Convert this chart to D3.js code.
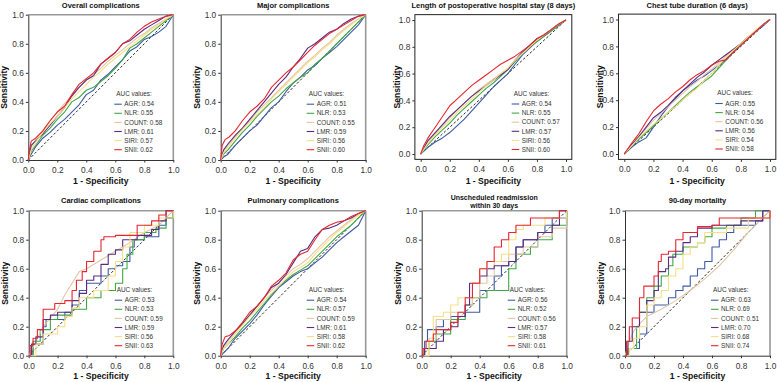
<!DOCTYPE html>
<html>
<head>
<meta charset="utf-8">
<script src="https://cdn.jsdelivr.net/npm/d3@7"></script>
<style>
  body { margin: 0; background: #fff; }
  text { font-family: "Liberation Sans", Arial, sans-serif; }
</style>
</head>
<body>
<div id="container"></div>
<script>
/**
 * DATA
 * */
const markers = ["AGR", "NLR", "COUNT", "LMR", "SIRI", "SNII"];

const titles = [
  ["Overall complications"],
  ["Major complications"],
  ["Length of postoperative hospital stay (8 days)"],
  ["Chest tube duration (6 days)"],
  ["Cardiac complications"],
  ["Pulmonary complications"],
  ["Unscheduled readmission", "within 30 days"],
  ["90-day mortality"]
];

const aucValues = [
  [0.54, 0.55, 0.58, 0.61, 0.57, 0.62],
  [0.51, 0.53, 0.55, 0.59, 0.56, 0.60],
  [0.54, 0.55, 0.57, 0.57, 0.56, 0.60],
  [0.55, 0.54, 0.56, 0.56, 0.54, 0.58],
  [0.53, 0.53, 0.59, 0.59, 0.56, 0.63],
  [0.54, 0.57, 0.59, 0.61, 0.58, 0.62],
  [0.56, 0.52, 0.56, 0.57, 0.58, 0.61],
  [0.63, 0.69, 0.51, 0.70, 0.68, 0.74]
];

const tickValues = [0, 0.2, 0.4, 0.6, 0.8, 1.0];

// ROC points [1 - specificity, sensitivity], marker order as above
const rocOverall = [
  [[0,0],[0.02,0.04],[0.05,0.09],[0.1,0.15],[0.15,0.19],[0.2,0.24],[0.25,0.28],[0.3,0.33],[0.35,0.38],[0.4,0.45],[0.45,0.48],[0.5,0.55],[0.55,0.59],[0.6,0.64],[0.65,0.69],[0.7,0.75],[0.75,0.78],[0.8,0.83],[0.85,0.85],[0.9,0.88],[0.95,0.92],[1,1]],
  [[0,0],[0.02,0.06],[0.05,0.1],[0.1,0.17],[0.15,0.22],[0.2,0.28],[0.25,0.33],[0.3,0.4],[0.35,0.43],[0.4,0.48],[0.45,0.5],[0.5,0.54],[0.55,0.58],[0.6,0.63],[0.65,0.69],[0.7,0.77],[0.75,0.8],[0.8,0.84],[0.85,0.88],[0.9,0.92],[0.95,0.96],[1,1]],
  [[0,0],[0.02,0.09],[0.05,0.14],[0.1,0.2],[0.15,0.27],[0.2,0.33],[0.25,0.39],[0.3,0.44],[0.35,0.5],[0.4,0.55],[0.45,0.59],[0.5,0.63],[0.55,0.68],[0.6,0.72],[0.65,0.76],[0.7,0.8],[0.75,0.84],[0.8,0.87],[0.85,0.91],[0.9,0.94],[0.95,0.97],[1,1]],
  [[0,0],[0.02,0.1],[0.05,0.13],[0.1,0.18],[0.15,0.24],[0.2,0.3],[0.25,0.36],[0.3,0.44],[0.35,0.5],[0.4,0.55],[0.45,0.58],[0.5,0.66],[0.55,0.7],[0.6,0.74],[0.65,0.8],[0.7,0.82],[0.75,0.86],[0.8,0.9],[0.85,0.93],[0.9,0.96],[0.95,0.99],[1,1]],
  [[0,0],[0.02,0.07],[0.05,0.12],[0.1,0.19],[0.15,0.25],[0.2,0.3],[0.25,0.36],[0.3,0.42],[0.35,0.47],[0.4,0.52],[0.45,0.57],[0.5,0.61],[0.55,0.66],[0.6,0.7],[0.65,0.74],[0.7,0.78],[0.75,0.82],[0.8,0.86],[0.85,0.9],[0.9,0.93],[0.95,0.97],[1,1]],
  [[0,0],[0.01,0.08],[0.02,0.13],[0.05,0.15],[0.1,0.2],[0.15,0.27],[0.2,0.33],[0.25,0.37],[0.3,0.45],[0.35,0.52],[0.4,0.56],[0.45,0.6],[0.5,0.66],[0.55,0.7],[0.6,0.74],[0.65,0.8],[0.7,0.83],[0.75,0.88],[0.8,0.92],[0.85,0.95],[0.9,0.97],[0.95,0.99],[1,1]]
];

const rocMajor = [
  [[0,0],[0.02,0.02],[0.05,0.04],[0.1,0.1],[0.15,0.15],[0.2,0.2],[0.25,0.24],[0.3,0.3],[0.35,0.36],[0.4,0.4],[0.45,0.47],[0.5,0.53],[0.55,0.57],[0.6,0.62],[0.65,0.65],[0.7,0.7],[0.75,0.74],[0.8,0.78],[0.85,0.83],[0.9,0.88],[0.95,0.93],[1,1]],
  [[0,0],[0.02,0.04],[0.05,0.07],[0.1,0.13],[0.15,0.19],[0.2,0.24],[0.25,0.3],[0.3,0.35],[0.35,0.4],[0.4,0.44],[0.45,0.49],[0.5,0.53],[0.55,0.57],[0.6,0.6],[0.65,0.66],[0.7,0.7],[0.75,0.75],[0.8,0.8],[0.85,0.85],[0.9,0.9],[0.95,0.95],[1,1]],
  [[0,0],[0.02,0.06],[0.05,0.1],[0.1,0.16],[0.15,0.22],[0.2,0.27],[0.25,0.33],[0.3,0.38],[0.35,0.43],[0.4,0.48],[0.45,0.53],[0.5,0.58],[0.55,0.63],[0.6,0.68],[0.65,0.72],[0.7,0.77],[0.75,0.81],[0.8,0.86],[0.85,0.9],[0.9,0.94],[0.95,0.97],[1,1]],
  [[0,0],[0.02,0.07],[0.05,0.11],[0.1,0.17],[0.15,0.22],[0.2,0.28],[0.25,0.34],[0.3,0.4],[0.35,0.46],[0.4,0.52],[0.45,0.57],[0.5,0.64],[0.55,0.7],[0.6,0.77],[0.65,0.8],[0.7,0.84],[0.75,0.88],[0.8,0.9],[0.85,0.94],[0.9,0.97],[0.95,0.99],[1,1]],
  [[0,0],[0.02,0.05],[0.05,0.09],[0.1,0.15],[0.15,0.21],[0.2,0.26],[0.25,0.31],[0.3,0.36],[0.35,0.42],[0.4,0.47],[0.45,0.52],[0.5,0.57],[0.55,0.62],[0.6,0.67],[0.65,0.71],[0.7,0.76],[0.75,0.8],[0.8,0.85],[0.85,0.89],[0.9,0.93],[0.95,0.97],[1,1]],
  [[0,0],[0.01,0.1],[0.03,0.14],[0.06,0.16],[0.1,0.2],[0.15,0.27],[0.2,0.33],[0.25,0.37],[0.3,0.42],[0.35,0.5],[0.4,0.55],[0.45,0.6],[0.5,0.64],[0.55,0.69],[0.6,0.74],[0.65,0.79],[0.7,0.83],[0.75,0.87],[0.8,0.9],[0.85,0.93],[0.9,0.96],[0.95,0.99],[1,1]]
];

const rocStay = [
  [[0,0],[0.05,0.05],[0.1,0.09],[0.15,0.12],[0.2,0.16],[0.25,0.21],[0.3,0.26],[0.35,0.32],[0.4,0.38],[0.45,0.44],[0.5,0.5],[0.55,0.55],[0.6,0.6],[0.65,0.67],[0.7,0.74],[0.75,0.79],[0.8,0.84],[0.85,0.88],[0.9,0.92],[0.95,0.96],[1,1]],
  [[0,0],[0.05,0.07],[0.1,0.13],[0.15,0.18],[0.2,0.23],[0.25,0.29],[0.3,0.34],[0.35,0.39],[0.4,0.44],[0.45,0.49],[0.5,0.53],[0.55,0.58],[0.6,0.63],[0.65,0.69],[0.7,0.75],[0.75,0.8],[0.8,0.84],[0.85,0.88],[0.9,0.92],[0.95,0.96],[1,1]],
  [[0,0],[0.05,0.09],[0.1,0.15],[0.15,0.21],[0.2,0.27],[0.25,0.33],[0.3,0.38],[0.35,0.43],[0.4,0.48],[0.45,0.52],[0.5,0.56],[0.55,0.6],[0.6,0.64],[0.65,0.7],[0.7,0.76],[0.75,0.81],[0.8,0.85],[0.85,0.89],[0.9,0.93],[0.95,0.97],[1,1]],
  [[0,0],[0.05,0.1],[0.1,0.16],[0.15,0.22],[0.2,0.28],[0.25,0.33],[0.3,0.38],[0.35,0.43],[0.4,0.47],[0.45,0.51],[0.5,0.55],[0.55,0.59],[0.6,0.63],[0.65,0.7],[0.7,0.76],[0.75,0.81],[0.8,0.86],[0.85,0.89],[0.9,0.93],[0.95,0.97],[1,1]],
  [[0,0],[0.05,0.08],[0.1,0.14],[0.15,0.2],[0.2,0.25],[0.25,0.31],[0.3,0.36],[0.35,0.41],[0.4,0.46],[0.45,0.51],[0.5,0.55],[0.55,0.6],[0.6,0.64],[0.65,0.7],[0.7,0.75],[0.75,0.8],[0.8,0.85],[0.85,0.89],[0.9,0.93],[0.95,0.97],[1,1]],
  [[0,0],[0.02,0.06],[0.05,0.12],[0.1,0.2],[0.15,0.28],[0.2,0.36],[0.25,0.41],[0.3,0.46],[0.35,0.51],[0.4,0.55],[0.45,0.59],[0.5,0.63],[0.55,0.67],[0.6,0.7],[0.65,0.73],[0.7,0.77],[0.75,0.81],[0.8,0.86],[0.85,0.89],[0.9,0.93],[0.95,0.97],[1,1]]
];

const rocChest = [
  [[0,0],[0.05,0.05],[0.1,0.09],[0.15,0.12],[0.2,0.2],[0.25,0.28],[0.3,0.35],[0.35,0.41],[0.4,0.47],[0.45,0.51],[0.5,0.55],[0.55,0.58],[0.6,0.62],[0.65,0.66],[0.7,0.71],[0.75,0.76],[0.8,0.81],[0.85,0.86],[0.9,0.91],[0.95,0.95],[1,1]],
  [[0,0],[0.05,0.06],[0.1,0.11],[0.15,0.16],[0.2,0.21],[0.25,0.26],[0.3,0.31],[0.35,0.36],[0.4,0.41],[0.45,0.46],[0.5,0.5],[0.55,0.54],[0.6,0.58],[0.65,0.64],[0.7,0.7],[0.75,0.76],[0.8,0.81],[0.85,0.86],[0.9,0.91],[0.95,0.96],[1,1]],
  [[0,0],[0.05,0.07],[0.1,0.13],[0.15,0.19],[0.2,0.25],[0.25,0.3],[0.3,0.35],[0.35,0.4],[0.4,0.45],[0.45,0.5],[0.5,0.54],[0.55,0.59],[0.6,0.63],[0.65,0.68],[0.7,0.73],[0.75,0.78],[0.8,0.82],[0.85,0.87],[0.9,0.91],[0.95,0.96],[1,1]],
  [[0,0],[0.05,0.07],[0.1,0.13],[0.15,0.2],[0.2,0.27],[0.25,0.31],[0.3,0.36],[0.35,0.42],[0.4,0.47],[0.45,0.52],[0.5,0.57],[0.55,0.61],[0.6,0.66],[0.65,0.7],[0.7,0.74],[0.75,0.78],[0.8,0.82],[0.85,0.87],[0.9,0.91],[0.95,0.96],[1,1]],
  [[0,0],[0.05,0.06],[0.1,0.12],[0.15,0.17],[0.2,0.22],[0.25,0.26],[0.3,0.31],[0.35,0.35],[0.4,0.4],[0.45,0.45],[0.5,0.49],[0.55,0.55],[0.6,0.6],[0.65,0.66],[0.7,0.72],[0.75,0.77],[0.8,0.82],[0.85,0.87],[0.9,0.92],[0.95,0.96],[1,1]],
  [[0,0],[0.05,0.08],[0.1,0.15],[0.15,0.24],[0.2,0.32],[0.25,0.37],[0.3,0.41],[0.35,0.46],[0.4,0.5],[0.45,0.55],[0.5,0.59],[0.55,0.62],[0.6,0.66],[0.65,0.69],[0.7,0.7],[0.75,0.76],[0.8,0.81],[0.85,0.86],[0.9,0.91],[0.95,0.96],[1,1]]
];

const rocCardiac = [
  [[0,0],[0.03,0.08],[0.1,0.2],[0.12,0.25],[0.2,0.25],[0.25,0.3],[0.3,0.35],[0.35,0.45],[0.4,0.5],[0.5,0.55],[0.55,0.6],[0.6,0.62],[0.65,0.65],[0.7,0.75],[0.73,0.8],[0.8,0.82],[0.9,0.9],[0.95,0.95],[1,1]],
  [[0,0],[0.03,0.1],[0.08,0.18],[0.15,0.25],[0.2,0.28],[0.3,0.32],[0.4,0.4],[0.5,0.45],[0.6,0.5],[0.65,0.6],[0.68,0.7],[0.72,0.8],[0.8,0.85],[0.88,0.88],[0.95,0.95],[1,1]],
  [[0,0],[0.05,0.1],[0.1,0.2],[0.15,0.26],[0.2,0.32],[0.25,0.42],[0.3,0.5],[0.35,0.58],[0.4,0.6],[0.5,0.66],[0.6,0.72],[0.7,0.78],[0.8,0.85],[0.9,0.9],[1,1]],
  [[0,0],[0.02,0.08],[0.05,0.13],[0.1,0.25],[0.15,0.28],[0.2,0.3],[0.3,0.38],[0.35,0.43],[0.4,0.52],[0.45,0.55],[0.5,0.63],[0.55,0.7],[0.6,0.73],[0.65,0.8],[0.75,0.83],[0.85,0.87],[0.9,0.93],[0.95,1],[1,1]],
  [[0,0],[0.05,0.08],[0.1,0.15],[0.2,0.2],[0.25,0.27],[0.3,0.33],[0.35,0.4],[0.45,0.45],[0.55,0.55],[0.6,0.65],[0.65,0.75],[0.7,0.85],[0.8,0.9],[0.9,0.95],[1,1]],
  [[0,0],[0.01,0.07],[0.03,0.12],[0.06,0.18],[0.1,0.32],[0.15,0.32],[0.18,0.36],[0.25,0.38],[0.3,0.45],[0.33,0.52],[0.37,0.58],[0.4,0.65],[0.45,0.72],[0.5,0.8],[0.52,0.82],[0.6,0.83],[0.75,0.9],[0.85,0.93],[0.9,0.97],[0.95,1],[1,1]]
];

const rocPulmonary = [
  [[0,0],[0.02,0.02],[0.05,0.05],[0.1,0.12],[0.15,0.17],[0.2,0.22],[0.25,0.28],[0.3,0.35],[0.35,0.41],[0.4,0.47],[0.45,0.51],[0.5,0.55],[0.55,0.58],[0.6,0.6],[0.65,0.64],[0.7,0.68],[0.75,0.73],[0.8,0.78],[0.85,0.82],[0.9,0.86],[0.95,0.9],[1,1]],
  [[0,0],[0.02,0.05],[0.05,0.08],[0.1,0.13],[0.15,0.19],[0.2,0.24],[0.25,0.3],[0.3,0.36],[0.35,0.42],[0.4,0.48],[0.45,0.52],[0.5,0.56],[0.55,0.59],[0.6,0.62],[0.65,0.67],[0.7,0.72],[0.75,0.77],[0.8,0.82],[0.85,0.86],[0.9,0.9],[0.95,0.95],[1,1]],
  [[0,0],[0.02,0.06],[0.05,0.1],[0.1,0.16],[0.15,0.22],[0.2,0.28],[0.25,0.34],[0.3,0.4],[0.35,0.45],[0.4,0.5],[0.45,0.55],[0.5,0.6],[0.55,0.63],[0.6,0.67],[0.65,0.72],[0.7,0.77],[0.75,0.82],[0.8,0.86],[0.85,0.9],[0.9,0.94],[0.95,0.97],[1,1]],
  [[0,0],[0.02,0.07],[0.05,0.11],[0.1,0.17],[0.15,0.22],[0.2,0.28],[0.25,0.34],[0.3,0.4],[0.35,0.47],[0.4,0.5],[0.45,0.56],[0.5,0.64],[0.55,0.72],[0.6,0.74],[0.65,0.82],[0.7,0.87],[0.75,0.88],[0.8,0.9],[0.85,0.93],[0.9,0.95],[0.95,0.98],[1,1]],
  [[0,0],[0.02,0.05],[0.05,0.08],[0.1,0.15],[0.15,0.21],[0.2,0.27],[0.25,0.32],[0.3,0.38],[0.35,0.43],[0.4,0.48],[0.45,0.53],[0.5,0.58],[0.55,0.61],[0.6,0.64],[0.65,0.7],[0.7,0.75],[0.75,0.8],[0.8,0.85],[0.85,0.89],[0.9,0.93],[0.95,0.97],[1,1]],
  [[0,0],[0.01,0.08],[0.03,0.13],[0.06,0.14],[0.1,0.17],[0.15,0.23],[0.2,0.3],[0.25,0.34],[0.3,0.4],[0.35,0.48],[0.4,0.52],[0.45,0.57],[0.5,0.66],[0.55,0.7],[0.6,0.72],[0.65,0.8],[0.7,0.87],[0.75,0.9],[0.8,0.92],[0.85,0.93],[0.9,0.96],[0.95,0.98],[1,1]]
];

const rocReadmission = [
  [[0,0],[0.02,0.1],[0.04,0.18],[0.1,0.2],[0.15,0.25],[0.2,0.27],[0.3,0.3],[0.4,0.45],[0.5,0.55],[0.55,0.62],[0.6,0.65],[0.65,0.75],[0.7,0.8],[0.8,0.85],[0.85,0.9],[0.9,0.95],[1,1]],
  [[0,0],[0.02,0.05],[0.05,0.1],[0.1,0.15],[0.2,0.25],[0.3,0.35],[0.35,0.4],[0.45,0.45],[0.6,0.6],[0.65,0.7],[0.75,0.75],[0.8,0.8],[0.9,0.9],[1,1]],
  [[0,0],[0.05,0.12],[0.1,0.25],[0.2,0.3],[0.3,0.35],[0.35,0.4],[0.4,0.5],[0.45,0.55],[0.5,0.65],[0.6,0.7],[0.7,0.75],[0.8,0.82],[0.9,0.88],[1,1]],
  [[0,0],[0.02,0.05],[0.1,0.1],[0.15,0.18],[0.2,0.2],[0.25,0.27],[0.3,0.35],[0.33,0.5],[0.4,0.55],[0.45,0.6],[0.5,0.62],[0.6,0.65],[0.65,0.75],[0.7,0.8],[0.8,0.85],[0.9,0.9],[0.95,1],[1,1]],
  [[0,0],[0.05,0.1],[0.08,0.27],[0.15,0.3],[0.2,0.35],[0.25,0.4],[0.35,0.5],[0.4,0.6],[0.45,0.65],[0.55,0.7],[0.6,0.8],[0.65,0.87],[0.7,0.9],[0.85,0.95],[1,1]],
  [[0,0],[0.01,0.05],[0.03,0.1],[0.08,0.15],[0.1,0.18],[0.2,0.23],[0.25,0.3],[0.3,0.4],[0.35,0.5],[0.4,0.6],[0.45,0.65],[0.5,0.75],[0.55,0.8],[0.6,0.85],[0.65,0.9],[0.75,0.95],[0.95,1],[1,1]]
];

const rocMortality = [
  [[0,0],[0.02,0.05],[0.1,0.15],[0.15,0.3],[0.2,0.35],[0.3,0.4],[0.35,0.45],[0.4,0.48],[0.45,0.55],[0.5,0.6],[0.55,0.65],[0.6,0.75],[0.65,0.8],[0.7,0.85],[0.75,0.9],[0.9,0.93],[0.95,1],[1,1]],
  [[0,0],[0.02,0.05],[0.08,0.2],[0.1,0.3],[0.15,0.4],[0.2,0.48],[0.25,0.55],[0.3,0.62],[0.33,0.7],[0.4,0.75],[0.5,0.78],[0.55,0.82],[0.6,0.88],[0.7,0.9],[0.8,0.95],[0.9,1],[1,1]],
  [[0,0],[0.03,0.1],[0.06,0.17],[0.1,0.22],[0.15,0.27],[0.25,0.32],[0.35,0.38],[0.45,0.45],[0.55,0.53],[0.65,0.62],[0.75,0.73],[0.85,0.85],[0.95,0.95],[1,1]],
  [[0,0],[0.02,0.1],[0.05,0.2],[0.1,0.3],[0.15,0.38],[0.2,0.45],[0.23,0.58],[0.28,0.6],[0.3,0.68],[0.35,0.72],[0.4,0.78],[0.45,0.82],[0.5,0.88],[0.6,0.9],[0.8,0.93],[0.95,1],[1,1]],
  [[0,0],[0.03,0.05],[0.06,0.12],[0.1,0.2],[0.15,0.35],[0.2,0.4],[0.25,0.45],[0.3,0.55],[0.35,0.6],[0.4,0.7],[0.45,0.75],[0.5,0.78],[0.55,0.85],[0.7,0.88],[0.85,0.95],[1,1]],
  [[0,0],[0.01,0.1],[0.03,0.2],[0.05,0.26],[0.1,0.4],[0.13,0.48],[0.2,0.55],[0.23,0.65],[0.25,0.7],[0.3,0.72],[0.35,0.8],[0.4,0.85],[0.5,0.89],[0.6,0.9],[0.65,0.95],[0.95,0.95],[1,1]]
];

const panelData = [rocOverall, rocMajor, rocStay, rocChest, rocCardiac, rocPulmonary, rocReadmission, rocMortality];

/**
 * LAYOUT AND STYLE
 * */
const width = 777, height = 382;
const colors = ["#3d5aa6", "#3fa846", "#e2c6a6", "#5b2b84", "#f6df85", "#e5262f"];

// x0/x1: pixel of 0 and 1 on x; yTop/yBot: pixel of 1 and 0 on y
const panels = [
  { x0: 28.3, x1: 173.3, yTop: 14.7, yBot: 160, gg: false, step: false },
  { x0: 220.7, x1: 365.7, yTop: 14.7, yBot: 160, gg: false, step: false },
  { x0: 420.7, x1: 566, yTop: 20, yBot: 154, gg: true, step: false },
  { x0: 624.3, x1: 770, yTop: 19.5, yBot: 154, gg: true, step: false },
  { x0: 28.7, x1: 173.3, yTop: 210.7, yBot: 355.7, gg: false, step: true },
  { x0: 220.7, x1: 365.7, yTop: 210.7, yBot: 355.7, gg: false, step: false },
  { x0: 421.7, x1: 566.7, yTop: 210.7, yBot: 355.7, gg: false, step: true },
  { x0: 625, x1: 770, yTop: 210.7, yBot: 355.7, gg: false, step: true }
];

const svg = d3.select("#container")
  .append("svg")
  .attr("width", width)
  .attr("height", height)
  .style("background", "#fff");

panels.forEach((p, i) => {
  const g = svg.append("g");
  const x = d3.scaleLinear().domain([0, 1]).range([p.x0, p.x1]);
  const y = d3.scaleLinear().domain([0, 1]).range([p.yBot, p.yTop]);
  const rowTop = i < 4 ? 0 : 190;
  const labelY = i < 4 ? 181 : 375.7;

  // frame
  let left = p.x0, right = p.x1, top = p.yTop, bottom = p.yBot;
  if (p.gg) {
    const ex = (p.x1 - p.x0) * 0.04, ey = (p.yBot - p.yTop) * 0.04;
    left = p.x0 - ex; right = p.x1 + ex; top = p.yTop - ey; bottom = p.yBot + ey;
    g.append("rect")
      .attr("x", left).attr("y", top)
      .attr("width", right - left).attr("height", bottom - top)
      .attr("fill", "none").attr("stroke", "#222").attr("stroke-width", 1);
  } else {
    g.append("line").attr("x1", left).attr("x2", right).attr("y1", top).attr("y2", top)
      .attr("stroke", "#999").attr("stroke-width", 1.6);
    g.append("line").attr("x1", right).attr("x2", right).attr("y1", top).attr("y2", bottom)
      .attr("stroke", "#999").attr("stroke-width", 1.6);
  }

  // axes
  const xAxis = d3.axisBottom(x).tickValues(tickValues).tickFormat(d3.format(".1f")).tickSize(2.5).tickSizeOuter(0);
  const yAxis = d3.axisLeft(y).tickValues(tickValues).tickFormat(d3.format(".1f")).tickSize(2.5).tickSizeOuter(0);
  const gx = g.append("g").attr("transform", `translate(0,${bottom})`).call(xAxis);
  const gy = g.append("g").attr("transform", `translate(${left},0)`).call(yAxis);
  [gx, gy].forEach(a => {
    a.select(".domain").attr("stroke", p.gg ? "none" : "#333").attr("stroke-width", 1);
    a.selectAll(".tick line").attr("stroke", "#333");
    a.selectAll(".tick text")
      .attr("fill", "#333")
      .style("font-family", "Liberation Sans, Arial, sans-serif")
      .style("font-size", "8.3px");
  });
  gx.selectAll(".tick text").attr("dy", "0.9em");
  gy.selectAll(".tick text").attr("x", -4.5);

  // diagonal
  g.append("line")
    .attr("x1", x(0)).attr("y1", y(0)).attr("x2", x(1)).attr("y2", y(1))
    .attr("stroke", "#111").attr("stroke-width", 0.9).attr("stroke-dasharray", "2.5,2");

  // curves
  panelData[i].forEach((pts, k) => {
    const stepped = p.step && !(i === 7 && k === 2) && !(i === 4 && k === 2);
    const line = d3.line()
      .x(d => x(d[0]))
      .y(d => y(d[1]))
      .curve(stepped ? d3.curveStepAfter : d3.curveLinear);
    g.append("path")
      .attr("d", line(pts))
      .attr("fill", "none")
      .attr("stroke", colors[k])
      .attr("stroke-width", 1.1)
      .attr("stroke-linejoin", "round");
  });

  // title
  const cx = (p.x0 + p.x1) / 2;
  const t = titles[i];
  const titleBase = i < 4 ? 7.5 : (t.length > 1 ? 10.2 : 13);
  t.forEach((s, j) => {
    g.append("text")
      .attr("x", cx)
      .attr("y", rowTop + titleBase + j * 7.7)
      .attr("text-anchor", "middle")
      .style("font-weight", "bold")
      .style("font-size", t.length > 1 ? "7px" : "7.5px")
      .attr("fill", "#111")
      .text(s);
  });

  // axis titles
  g.append("text")
    .attr("x", cx).attr("y", labelY + 3)
    .attr("text-anchor", "middle")
    .style("font-weight", "bold").style("font-size", "8.6px")
    .attr("fill", "#111")
    .text("1 - Specificity");
  g.append("text")
    .attr("transform", `translate(${p.x0 - 21},${(p.yTop + p.yBot) / 2}) rotate(-90)`)
    .attr("text-anchor", "middle")
    .style("font-weight", "bold").style("font-size", "8.6px")
    .attr("fill", "#111")
    .text("Sensitivity");

  // legend
  const lx = p.x0 + (p.gg ? 91 : 86);
  const ly = p.yTop + (p.gg ? 73.5 : 79);
  const lg = g.append("g").attr("transform", `translate(${lx},${ly})`);
  lg.append("text")
    .attr("x", 2).attr("y", 2.2)
    .style("font-size", "6.4px").attr("fill", "#333")
    .text("AUC values:");
  markers.forEach((m, k) => {
    const yy = 10.5 + k * 9.1;
    lg.append("line")
      .attr("x1", 0).attr("x2", 7.5).attr("y1", yy).attr("y2", yy)
      .attr("stroke", colors[k]).attr("stroke-width", 1.1);
    lg.append("text")
      .attr("x", 10).attr("y", yy + 2.2)
      .style("font-size", "6.4px").attr("fill", "#333")
      .text(`${m}: ${aucValues[i][k].toFixed(2)}`);
  });
});
</script>
</body>
</html>
